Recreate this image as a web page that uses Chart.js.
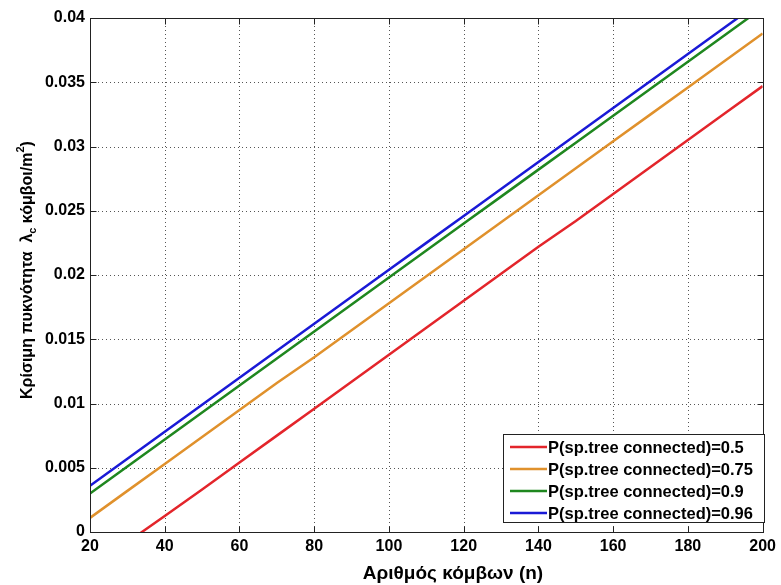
<!DOCTYPE html>
<html>
<head>
<meta charset="utf-8">
<script src="https://cdn.jsdelivr.net/npm/chart.js@4/dist/chart.umd.min.js"></script>
<style>
  html, body { margin: 0; padding: 0; background: #ffffff; }
  #wrap { width: 781px; height: 585px; position: relative; }
</style>
</head>
<body>
<div id="wrap"><canvas id="c" width="781" height="585"></canvas></div>
<script>
// ---- data ----
const nodes = [20, 30, 40, 50, 60, 70, 80, 90, 100, 110, 120, 130, 140, 150, 160, 170, 180, 190, 200];
const p050 = [-0.0029, -0.0008, 0.00125, 0.0033, 0.0054, 0.0075, 0.0096, 0.0117, 0.0138, 0.0159, 0.0180, 0.0201, 0.0222, 0.0242, 0.0263, 0.0284, 0.0305, 0.0326, 0.0347];
const p075 = [0.0011, 0.0032, 0.0053, 0.0074, 0.0095, 0.0116, 0.0136, 0.0157, 0.0178, 0.0199, 0.0220, 0.0241, 0.0262, 0.0283, 0.0304, 0.0325, 0.0346, 0.0367, 0.0388];
const p090 = [0.0030, 0.0051, 0.0072, 0.0093, 0.0114, 0.0135, 0.0156, 0.0177, 0.0198, 0.0219, 0.0240, 0.0261, 0.0282, 0.0303, 0.0324, 0.0345, 0.0366, 0.0387, 0.0408];
const p096 = [0.0036, 0.0057, 0.0078, 0.0099, 0.0120, 0.0141, 0.0162, 0.0183, 0.0204, 0.0225, 0.0246, 0.0267, 0.0288, 0.0309, 0.0330, 0.0351, 0.0372, 0.0393, 0.0414];
const seriesLabels = ['P(sp.tree connected)=0.5', 'P(sp.tree connected)=0.75', 'P(sp.tree connected)=0.9', 'P(sp.tree connected)=0.96'];
const xTitle = 'Αριθμός κόμβων (n)';
const yTitleParts = ['Κρίσιμη πυκνότητα  λ', 'c', ' κόμβοι/m', '2', ')'];

const colors = ['#e3252b', '#e0912c', '#1f871f', '#1a1ad6'];
const FONT = "'Liberation Sans', Arial, sans-serif";

function pts(ys) { return nodes.map((x, i) => ({ x: x, y: ys[i] })); }

const frame = {
  id: 'frame',
  beforeDatasetsDraw(chart) {
    const { ctx, chartArea: a, scales: { x, y } } = chart;
    ctx.save();
    ctx.strokeStyle = '#555';
    ctx.lineWidth = 1;
    ctx.setLineDash([1, 3]);
    x.ticks.forEach(t => {
      const px = Math.round(x.getPixelForValue(t.value)) + 0.5;
      if (px < a.left + 2 || px > a.right - 2) return;
      ctx.beginPath(); ctx.moveTo(px, a.top); ctx.lineTo(px, a.bottom); ctx.stroke();
    });
    y.ticks.forEach(t => {
      const py = Math.round(y.getPixelForValue(t.value)) + 0.5;
      if (py < a.top + 2 || py > a.bottom - 2) return;
      ctx.beginPath(); ctx.moveTo(a.left, py); ctx.lineTo(a.right, py); ctx.stroke();
    });
    ctx.restore();
  },
  afterDatasetsDraw(chart) {
    const { ctx, chartArea: a, scales: { x, y } } = chart;
    ctx.save();
    ctx.strokeStyle = '#222';
    ctx.lineWidth = 1;
    ctx.setLineDash([]);
    const L = Math.round(a.left) + 0.5, R = Math.round(a.right) + 0.5;
    const T = Math.round(a.top) + 0.5, B = Math.round(a.bottom) + 0.5;
    ctx.strokeRect(L, T, R - L, B - T);
    const tl = 6;
    x.ticks.forEach(t => {
      const px = Math.round(x.getPixelForValue(t.value)) + 0.5;
      ctx.beginPath();
      ctx.moveTo(px, B); ctx.lineTo(px, B - tl);
      ctx.moveTo(px, T); ctx.lineTo(px, T + tl);
      ctx.stroke();
    });
    y.ticks.forEach(t => {
      const py = Math.round(y.getPixelForValue(t.value)) + 0.5;
      ctx.beginPath();
      ctx.moveTo(L, py); ctx.lineTo(L + tl, py);
      ctx.moveTo(R, py); ctx.lineTo(R - tl, py);
      ctx.stroke();
    });
    ctx.restore();
  },
  afterDraw(chart) {
    const { ctx } = chart;
    ctx.save();
    ctx.fillStyle = '#000';
    // x title
    ctx.font = 'bold 19px ' + FONT;
    ctx.textAlign = 'center';
    ctx.textBaseline = 'middle';
    ctx.fillText(xTitle, 453, 574);
    // y title with subscript / superscript
    ctx.translate(28, 270);
    ctx.rotate(-Math.PI / 2);
    const big = 'bold 16px ' + FONT, small = 'bold 11px ' + FONT;
    const fonts = [big, small, big, small, big];
    const shifts = [0, 5, 0, -7, 0];
    let total = 0;
    const widths = yTitleParts.map((s, i) => { ctx.font = fonts[i]; const w = ctx.measureText(s).width; total += w; return w; });
    let cx = -total / 2;
    ctx.textAlign = 'left';
    ctx.textBaseline = 'middle';
    yTitleParts.forEach((s, i) => {
      ctx.font = fonts[i];
      ctx.fillText(s, cx, shifts[i]);
      cx += widths[i];
    });
    ctx.restore();

    // legend
    ctx.save();
    const bx = 503.5, by = 434.5, bw = 261, bh = 88;
    ctx.fillStyle = '#fff';
    ctx.fillRect(bx, by, bw, bh);
    ctx.strokeStyle = '#222';
    ctx.lineWidth = 1;
    ctx.strokeRect(bx, by, bw, bh);
    ctx.font = 'bold 16.5px ' + FONT;
    ctx.textAlign = 'left';
    ctx.textBaseline = 'middle';
    chart.data.datasets.forEach((ds, i) => {
      const ry = 447 + i * 22;
      ctx.strokeStyle = ds.borderColor;
      ctx.lineWidth = 2.5;
      ctx.beginPath(); ctx.moveTo(510, ry); ctx.lineTo(547, ry); ctx.stroke();
      ctx.fillStyle = '#000';
      ctx.fillText(ds.label, 548, ry + 1);
    });
    ctx.restore();
  }
};

new Chart(document.getElementById('c'), {
  type: 'line',
  data: {
    datasets: [p050, p075, p090, p096].map((ys, i) => ({
      label: seriesLabels[i],
      data: pts(ys),
      borderColor: colors[i],
      backgroundColor: colors[i],
      borderWidth: 2.5,
      pointRadius: 0,
      tension: 0,
      fill: false,
      clip: 0
    }))
  },
  options: {
    responsive: false,
    animation: false,
    devicePixelRatio: 1,
    layout: { padding: { left: 0, top: 18, right: 14, bottom: 0 } },
    plugins: { legend: { display: false }, tooltip: { enabled: false } },
    scales: {
      x: {
        type: 'linear',
        min: 20, max: 200,
        grid: { display: false, drawTicks: false },
        border: { display: false },
        ticks: { stepSize: 20, padding: 5, color: '#000', font: { family: FONT, size: 16, weight: 'bold' }, maxRotation: 0, autoSkip: false },
        afterFit(s) { s.height = 53; }
      },
      y: {
        type: 'linear',
        min: 0, max: 0.04,
        grid: { display: false, drawTicks: false },
        border: { display: false },
        ticks: { stepSize: 0.005, padding: 5, color: '#000', font: { family: FONT, size: 16, weight: 'bold' },
                 callback: v => String(+v.toFixed(3)) },
        afterFit(s) { s.width = 90; }
      }
    }
  },
  plugins: [frame]
});
</script>
</body>
</html>
